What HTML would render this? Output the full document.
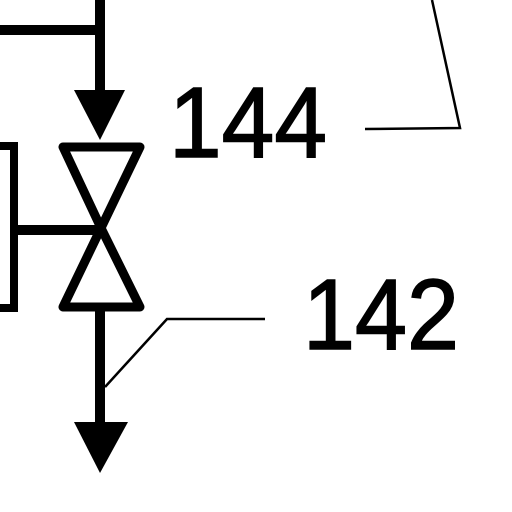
<!DOCTYPE html>
<html><head><meta charset="utf-8"><style>html,body{margin:0;padding:0;background:#fff}svg{display:block}</style></head>
<body>
<svg width="512" height="512" viewBox="0 0 512 512">
<rect width="512" height="512" fill="#fff"/>
<g stroke="#000" stroke-width="10" fill="none">
<line x1="0" y1="30" x2="105" y2="30"/>
<line x1="100" y1="0" x2="100" y2="95"/>
<polyline points="0,146 14,146 14,308 0,308" stroke-width="8"/>
<line x1="14" y1="230" x2="100" y2="230"/>
<polygon points="63,147 140,147 101,228" stroke-linejoin="round" stroke-width="9"/>
<polygon points="101,228 63,307 140,307" stroke-linejoin="round" stroke-width="9"/>
<line x1="100" y1="307" x2="100" y2="428"/>
</g>
<polygon points="74,90 125,90 100,140" fill="#000"/>
<polygon points="74,422 128,422 100,473" fill="#000"/>
<g stroke="#000" stroke-width="2.5" fill="none">
<polyline points="365,129 460,128 432,0"/>
<polyline points="265,319 167,319 105,387"/>
</g>
<text x="169" y="157" font-family="Liberation Sans, sans-serif" font-size="100" stroke="#000" stroke-width="1.5" textLength="158" lengthAdjust="spacingAndGlyphs">144</text>
<text x="303" y="349" font-family="Liberation Sans, sans-serif" font-size="100" stroke="#000" stroke-width="1.5" textLength="156" lengthAdjust="spacingAndGlyphs">142</text>
</svg>
</body></html>
